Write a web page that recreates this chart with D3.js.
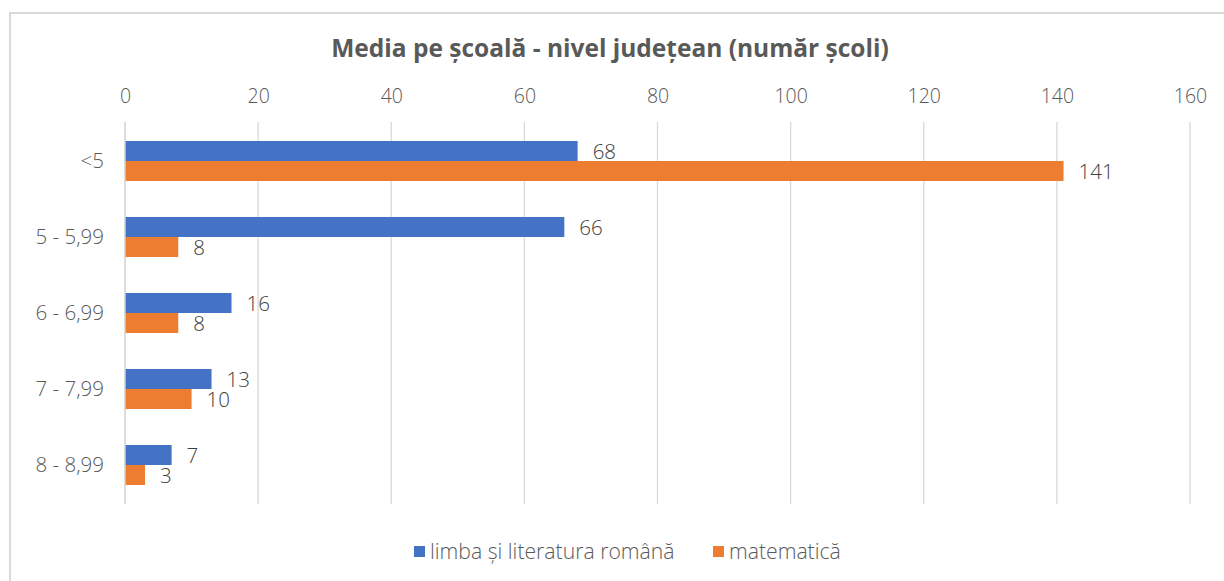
<!DOCTYPE html>
<html><head><meta charset="utf-8">
<script src="https://cdn.jsdelivr.net/npm/d3@7/dist/d3.min.js"></script>
<style>body{margin:0;background:#fff;} svg{display:block;} text{font-family:"Open Sans",sans-serif;}</style>
</head><body><svg id="c" width="1224" height="581"></svg>
<script>
const categories = ["<5", "5 - 5,99", "6 - 6,99", "7 - 7,99", "8 - 8,99"];
const seriesNames = ["limba și literatura română", "matematică"];
const romana = [68, 66, 16, 13, 7];
const matematica = [141, 8, 8, 10, 3];
const tickValues = [0, 20, 40, 60, 80, 100, 120, 140, 160];
const colors = ["#4472C4", "#ED7D31"];
const title = "Media pe școală - nivel județean (număr școli)";

const svg = d3.select("#c");
svg.append("rect").attr("x",10).attr("y",13).attr("width",1230).attr("height",600)
  .attr("fill","#fff").attr("stroke","#d9d9d9").attr("stroke-width",2);

const x = d3.scaleLinear().domain([0,160]).range([125,1190]);
const y = d3.scaleBand().domain(categories).range([123,503]).paddingInner(36/76).paddingOuter(18/76);
const ySub = d3.scaleBand().domain([0,1]).range([0,y.bandwidth()]);

// gridlines
svg.append("g").selectAll("line").data(tickValues).join("line")
  .attr("x1",d=>x(d)).attr("x2",d=>x(d)).attr("y1",122).attr("y2",504)
  .attr("stroke","#d9d9d9").attr("stroke-width",1.3);

// top axis labels
const ax = svg.append("g").attr("transform","translate(0,97)")
  .call(d3.axisTop(x).tickValues(tickValues).tickSize(0).tickPadding(0));
ax.select(".domain").remove();
ax.selectAll("text").attr("font-size",19.5).attr("fill","#595959").attr("font-family","Open Sans, sans-serif").attr("dy","0.32em").attr("font-weight",300);

// left axis
const ay = svg.append("g").attr("transform","translate(104,0)")
  .call(d3.axisLeft(y).tickSize(0).tickPadding(0));
ay.select(".domain").remove();
ay.selectAll("text").attr("font-size",20.5).attr("fill","#595959").attr("font-family","Open Sans, sans-serif").attr("font-weight",300);

const series = [romana, matematica];
series.forEach((vals,si)=>{
  const g = svg.append("g");
  g.selectAll("rect").data(vals).join("rect")
    .attr("x",x(0)).attr("y",(d,i)=>y(categories[i])+ySub(si))
    .attr("width",d=>x(d)-x(0)).attr("height",ySub.bandwidth())
    .attr("fill",colors[si]);
  g.selectAll("text").data(vals).join("text")
    .attr("x",d=>x(d)+15).attr("y",(d,i)=>y(categories[i])+ySub(si)+ySub.bandwidth()/2+1)
    .attr("dy","0.35em").attr("font-size",20.5).attr("fill","#404040").attr("font-weight",300)
    .text(d=>d);
});

// axis line at 0
svg.append("line").attr("x1",x(0)).attr("x2",x(0)).attr("y1",122).attr("y2",504).attr("stroke","#d9d9d9").attr("stroke-width",1.3);

svg.append("text").attr("x",610).attr("y",48).attr("text-anchor","middle").attr("dy","0.35em")
  .attr("font-size",24.5).attr("font-weight",700).attr("fill","#595959").text(title);

// legend
const leg = [{x:414, tx:430},{x:713, tx:729}];
seriesNames.forEach((n,i)=>{
  svg.append("rect").attr("x",leg[i].x).attr("y",546).attr("width",11).attr("height",11).attr("fill",colors[i]);
  svg.append("text").attr("x",leg[i].tx).attr("y",551.5).attr("dy","0.35em").attr("font-size",21.2)
    .attr("fill","#595959").attr("font-weight",300).text(n);
});
</script></body></html>
